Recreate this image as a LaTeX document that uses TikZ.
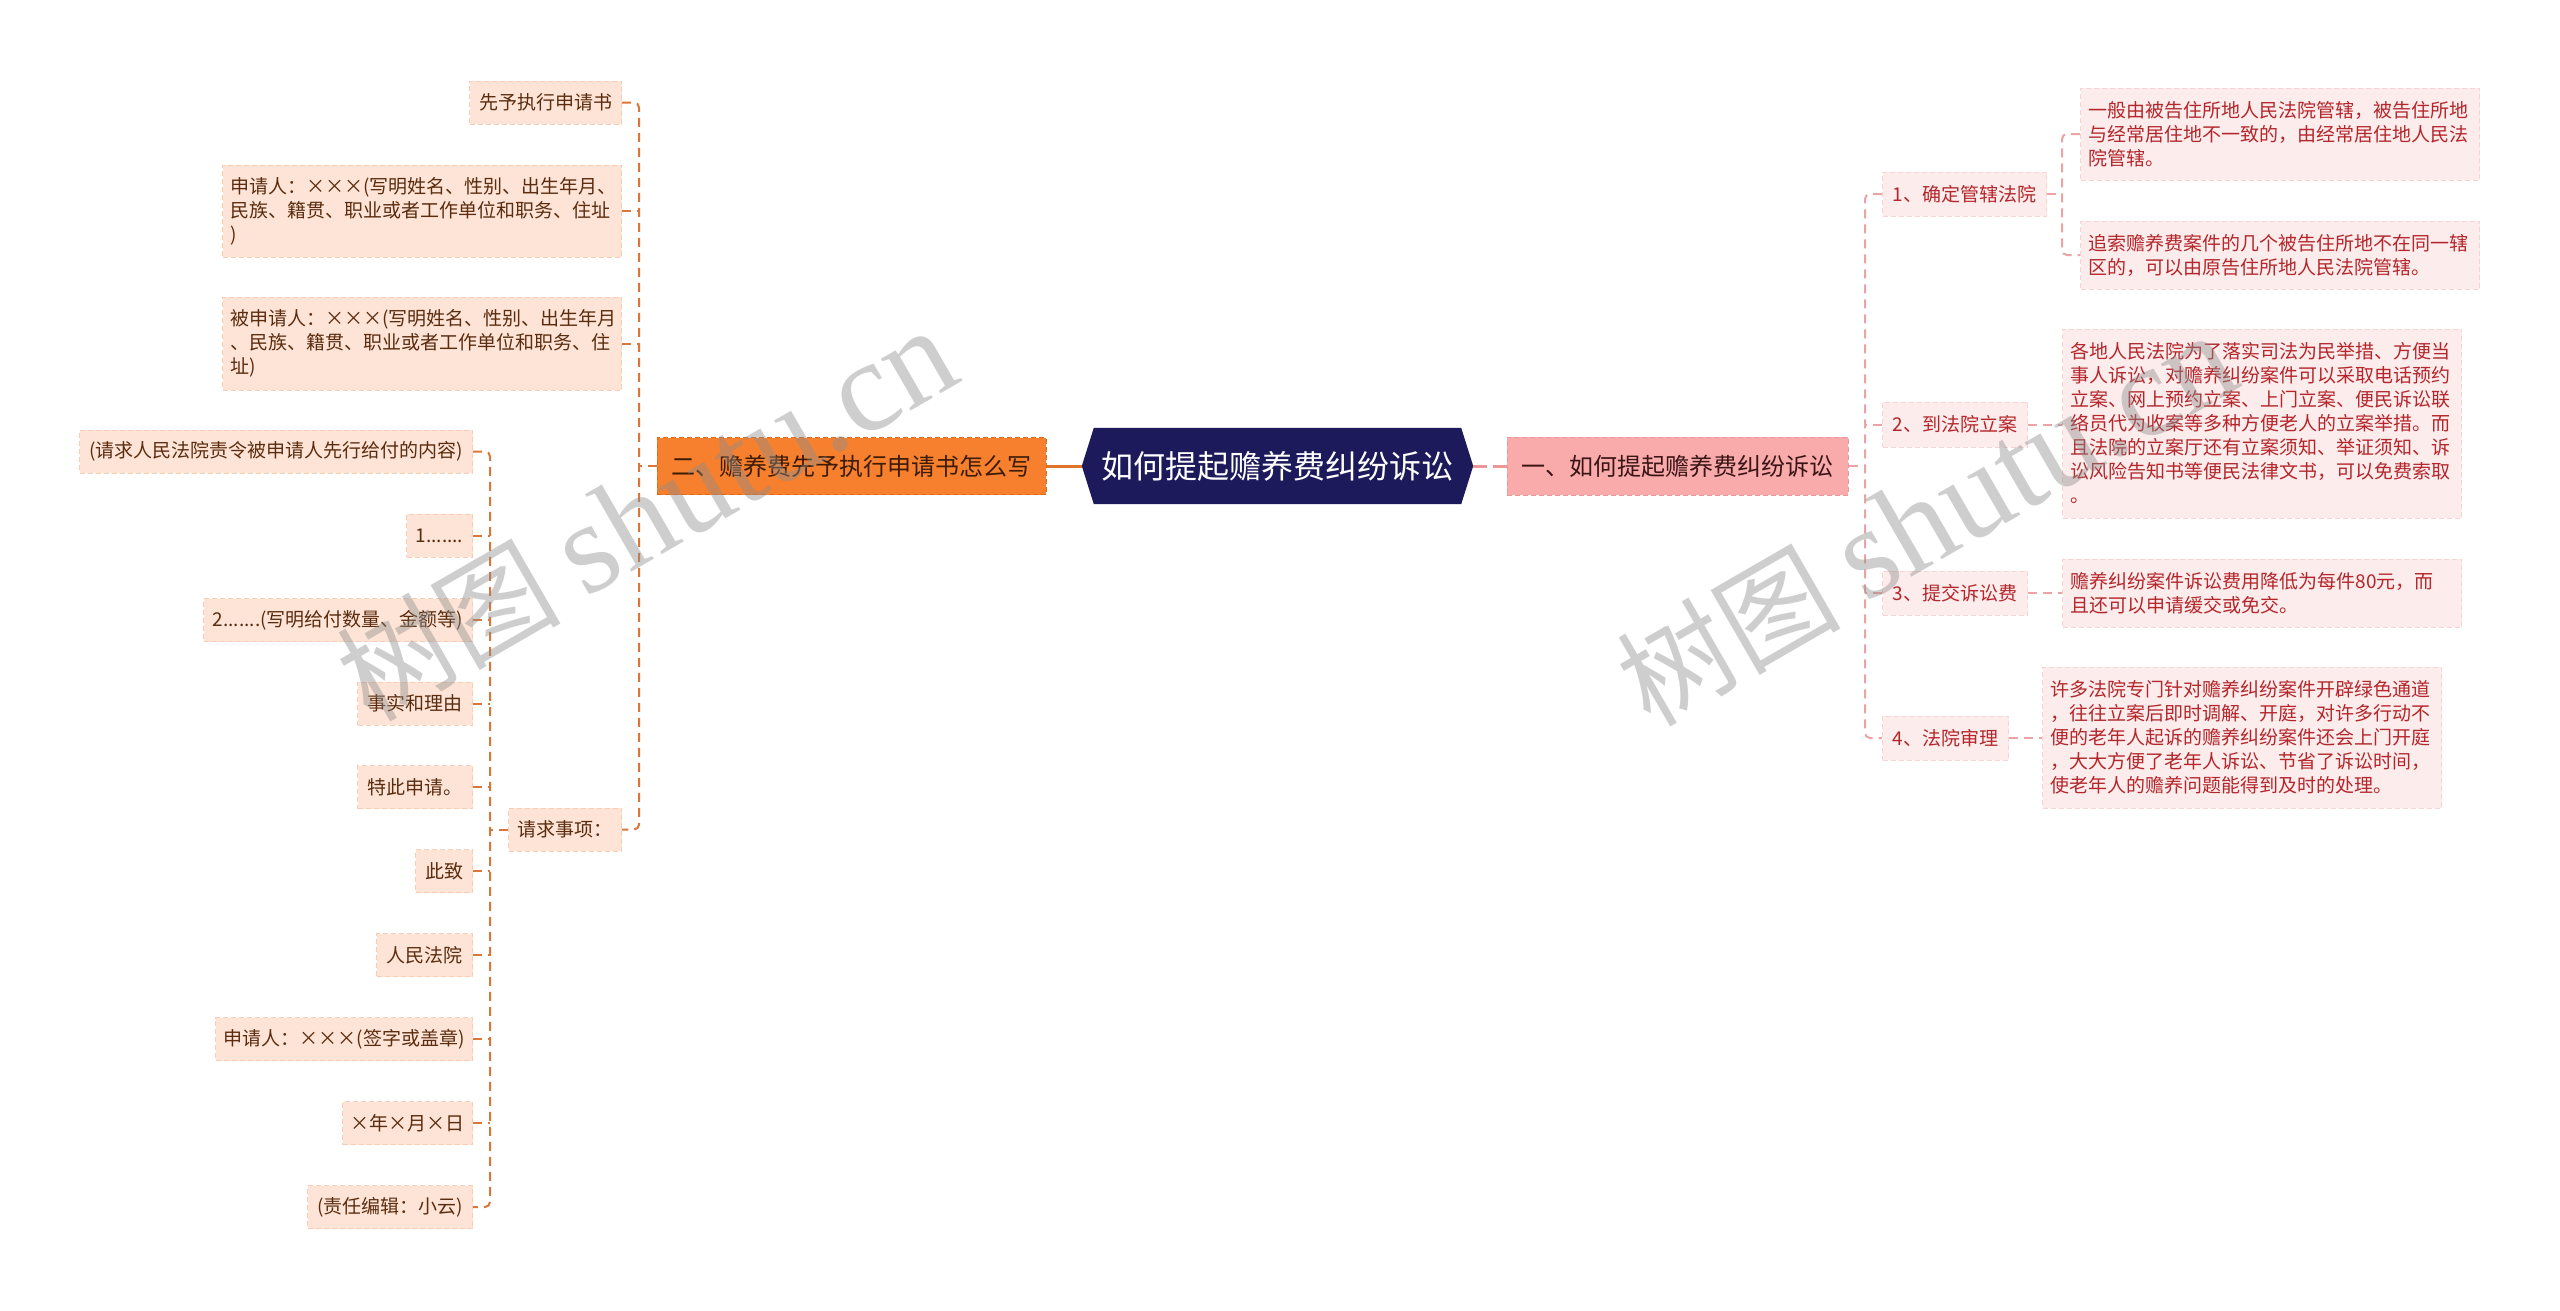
\documentclass[tikz,border=0pt]{standalone}
\usepackage{fontspec}
\setmainfont{Noto Sans CJK SC}
\newfontfamily\wmlatin{Liberation Serif}
\pgfdeclarelayer{back}
\pgfdeclarelayer{hexl}
\pgfsetlayers{back,hexl,main}
\definecolor{cNavy}{HTML}{1D1A5B}
\definecolor{cOrange}{HTML}{F7802F}
\definecolor{cOrangeB}{HTML}{DE6A1C}
\definecolor{cOrangeT}{HTML}{3D1C06}
\definecolor{cPink}{HTML}{F9AAAA}
\definecolor{cPinkB}{HTML}{EC9797}
\definecolor{cPinkT}{HTML}{3A1515}
\definecolor{cLfill}{HTML}{FDE4D6}
\definecolor{cLborder}{HTML}{F8CDB6}
\definecolor{cLtext}{HTML}{5B2C0F}
\definecolor{cLline}{HTML}{D9773A}
\definecolor{cRfill}{HTML}{FDECEC}
\definecolor{cRborder}{HTML}{F7D3D3}
\definecolor{cRtext}{HTML}{B3262B}
\definecolor{cRline}{HTML}{EBA3A3}
\definecolor{cWM}{HTML}{8C8C8C}
\begin{document}
\begin{tikzpicture}[x=1pt,y=-1pt,
  box/.style={rectangle, inner xsep=8pt, inner ysep=0pt, minimum height=43pt,
    line width=1pt, dash pattern=on 5pt off 3pt},
  leafL/.style={box, fill=cLfill, draw=cLborder, text=cLtext,
    font=\fontsize{19}{24}\selectfont},
  leafR/.style={box, fill=cRfill, draw=cRborder, text=cRtext,
    font=\fontsize{19}{24}\selectfont},
  multi/.style={text width=#1, align=left},
  lineL/.style={draw=cLline, line width=2pt, dash pattern=on 9pt off 6pt, rounded corners=5pt},
  lineR/.style={draw=cRline, line width=2pt, dash pattern=on 9pt off 6pt, rounded corners=5pt},
  wm/.style={rotate=30, text=cWM, opacity=0.42, inner sep=0pt}
]
\useasboundingbox (0,0) rectangle (2560,1310);
\begin{pgfonlayer}{back}
\fill[white] (0,0) rectangle (2560,1310);
\end{pgfonlayer}

% root
\node[minimum width=391pt, minimum height=76pt, inner sep=0pt, text=white,
  font=\fontsize{32}{36}\selectfont] (root) at (1277.5,466) {如何提起赡养费纠纷诉讼};
\begin{pgfonlayer}{hexl}
\fill[cNavy] (root.west) -- ([xshift=12pt]root.north west) -- ([xshift=-12pt]root.north east)
  -- (root.east) -- ([xshift=-12pt]root.south east) -- ([xshift=12pt]root.south west) -- cycle;
\end{pgfonlayer}

% main branches
\node[box, fill=cOrange, draw=cOrangeB, text=cOrangeT, minimum width=389pt, minimum height=57pt,
  font=\fontsize{24}{28}\selectfont] (o) at (851.5,466) {二、赡养费先予执行申请书怎么写};
\node[box, fill=cPink, draw=cPinkB, text=cPinkT, minimum width=341pt, minimum height=58pt,
  font=\fontsize{24}{28}\selectfont] (p) at (1677.5,466) {一、如何提起赡养费纠纷诉讼};

% left level 2
\node[leafL, anchor=east, minimum width=152pt] (a1) at (622,102.5) {先予执行申请书};
\node[leafL, anchor=east, minimum height=92pt, multi=383pt] (a2) at (622,211)
  {申请人：×××(写明姓名、性别、出生年月、\\民族、籍贯、职业或者工作单位和职务、住址\\)};
\node[leafL, anchor=east, minimum height=93pt, multi=383pt] (a3) at (622,343.5)
  {被申请人：×××(写明姓名、性别、出生年月\\、民族、籍贯、职业或者工作单位和职务、住\\址)};
\node[leafL, anchor=east, minimum width=113pt] (a4) at (622,829.5) {请求事项：};

% left level 3
\node[leafL, anchor=east, minimum width=393pt] (b1) at (473,451.5) {(请求人民法院责令被申请人先行给付的内容)};
\node[leafL, anchor=east, minimum width=66pt] (b2) at (473,535.5) {1.......};
\node[leafL, anchor=east, minimum width=269pt] (b3) at (473,620) {2.......(写明给付数量、金额等)};
\node[leafL, anchor=east, minimum width=115pt] (b4) at (473,703.5) {事实和理由};
\node[leafL, anchor=east, minimum width=115pt] (b5) at (473,787) {特此申请。};
\node[leafL, anchor=east, minimum width=57pt] (b6) at (473,871) {此致};
\node[leafL, anchor=east, minimum width=96pt] (b7) at (473,955) {人民法院};
\node[leafL, anchor=east, minimum width=245pt] (b8) at (473,1039) {申请人：×××(签字或盖章)};
\node[leafL, anchor=east, minimum width=118pt] (b9) at (473,1123) {×年×月×日};
\node[leafL, anchor=east, minimum width=165pt] (b10) at (473,1207) {(责任编辑：小云)};

% right level 2
\node[leafR, anchor=west, minimum width=164pt, minimum height=44pt] (r1) at (1882,194) {1、确定管辖法院};
\node[leafR, anchor=west, minimum width=145pt, minimum height=45pt] (r2) at (1882,424.5) {2、到法院立案};
\node[leafR, anchor=west, minimum width=145pt, minimum height=44pt] (r3) at (1882,593) {3、提交诉讼费};
\node[leafR, anchor=west, minimum width=126pt, minimum height=44pt] (r4) at (1882,738) {4、法院审理};

% right level 3
\node[leafR, anchor=west, minimum height=92pt, multi=383pt] (s1) at (2080,134)
  {一般由被告住所地人民法院管辖，被告住所地\\与经常居住地不一致的，由经常居住地人民法\\院管辖。};
\node[leafR, anchor=west, minimum height=68pt, multi=383pt] (s2) at (2080,255)
  {追索赡养费案件的几个被告住所地不在同一辖\\区的，可以由原告住所地人民法院管辖。};
\node[leafR, anchor=west, minimum height=189pt, multi=383pt] (s3) at (2062,423.5)
  {各地人民法院为了落实司法为民举措、方便当\\事人诉讼，对赡养纠纷案件可以采取电话预约\\立案、网上预约立案、上门立案、便民诉讼联\\络员代为收案等多种方便老人的立案举措。而\\且法院的立案厅还有立案须知、举证须知、诉\\讼风险告知书等便民法律文书，可以免费索取\\。};
\node[leafR, anchor=west, minimum height=68pt, multi=383pt] (s4) at (2062,593)
  {赡养纠纷案件诉讼费用降低为每件80元，而\\且还可以申请缓交或免交。};
\node[leafR, anchor=west, minimum height=141pt, multi=383pt] (s5) at (2042,737.5)
  {许多法院专门针对赡养纠纷案件开辟绿色通道\\，往往立案后即时调解、开庭，对许多行动不\\便的老年人起诉的赡养纠纷案件还会上门开庭\\，大大方便了老年人诉讼、节省了诉讼时间，\\使老年人的赡养问题能得到及时的处理。};

% trunk coordinates
\coordinate (Lt) at (639,466);
\coordinate (Ls) at (490,830);
\coordinate (Rt) at (1865,466);
\coordinate (Rs) at (2062,194);

% connectors root
\draw[draw=cOrange!90!black, line width=3pt] (root.west) -- (o.east);
\draw[draw=cPinkB, line width=3pt, dash pattern=on 14pt off 6pt] (root.east) -- (p.west);

% left trunk
\draw[lineL] (a1.east) -- (a1.east -| Lt) -- (a4.east -| Lt) -- (a4.east);
\draw[lineL] (o.west) -- (o.west -| Lt);
\draw[lineL] (a2.east) -- (a2.east -| Lt);
\draw[lineL] (a3.east) -- (a3.east -| Lt);

% left sub trunk
\draw[lineL] (b1.east) -- (b1.east -| Ls) -- (b10.east -| Ls) -- (b10.east);
\draw[lineL] (a4.west) -- (a4.west -| Ls);
\foreach \n in {b2,b3,b4,b5,b6,b7,b8,b9}
  \draw[lineL] (\n.east) -- (\n.east -| Ls);

% right trunk
\draw[lineR] (r1.west) -- (r1.west -| Rt) -- (r4.west -| Rt) -- (r4.west);
\draw[lineR] (p.east) -- (p.east -| Rt);
\draw[lineR] (r2.west) -- (r2.west -| Rt);
\draw[lineR] (r3.west) -- (r3.west -| Rt);

% right sub
\draw[lineR] (s1.west) -- (s1.west -| Rs) -- (s2.west -| Rs) -- (s2.west);
\draw[lineR] (r1.east) -- (Rs);
\draw[lineR] (r2.east) -- (s3.west |- r2.east);
\draw[lineR] (r3.east) -- (s4.west |- r3.east);
\draw[lineR] (r4.east) -- (s5.west |- r4.east);

% watermarks
\node[wm] (wm1) at (646,515) {\fontsize{112}{112}\selectfont 树图 {\wmlatin\fontsize{130}{130}\selectfont shutu.cn}};
\node[wm] (wm2) at (1926,520) {\fontsize{112}{112}\selectfont 树图 {\wmlatin\fontsize{130}{130}\selectfont shutu.cn}};
\end{tikzpicture}
\end{document}
